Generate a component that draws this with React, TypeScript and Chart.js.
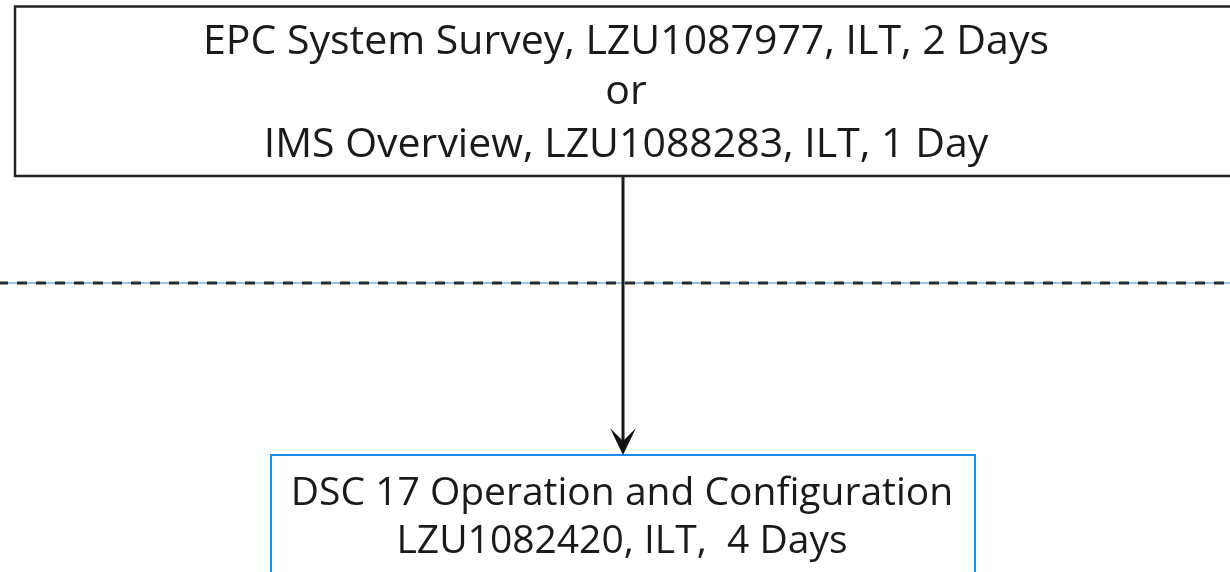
import React, { useEffect, useRef } from "react";
import { Chart, registerables } from "chart.js";

Chart.register(...registerables);

// Course nodes (text lines)
const topBoxLines = [
  "EPC System Survey, LZU1087977, ILT, 2 Days",
  "or",
  "IMS Overview, LZU1088283, ILT, 1 Day",
];
const bottomBoxLines = [
  "DSC 17 Operation and Configuration",
  "LZU1082420, ILT,  4 Days",
];

// Connector (arrow) from top node to bottom node, in diagram units
const arrowX = [623, 623];
const arrowY = [176, 448];

// Level separator
const separatorX = [0, 1230];
const separatorY = [283, 283];

const FONT = '"Open Sans", "Noto Sans", sans-serif';

const diagramPlugin = {
  id: "diagram",
  afterDatasetsDraw(chart: any) {
    const ctx: CanvasRenderingContext2D = chart.ctx;
    const xs = chart.scales.x;
    const ys = chart.scales.y;
    const px = (v: number) => xs.getPixelForValue(v);
    const py = (v: number) => ys.getPixelForValue(v);

    // top box
    ctx.save();
    ctx.strokeStyle = "#222222";
    ctx.lineWidth = 2.5;
    ctx.strokeRect(px(15), py(6.5), px(1250) - px(15), py(176) - py(6.5));
    ctx.fillStyle = "#1a1a1a";
    ctx.font = `41px ${FONT}`;
    ctx.textAlign = "center";
    ctx.textBaseline = "alphabetic";
    const topBase = [54, 104, 157];
    topBoxLines.forEach((t, i) => ctx.fillText(t, px(626), py(topBase[i])));

    // bottom box
    ctx.strokeStyle = "#1b8cf0";
    ctx.lineWidth = 2;
    ctx.strokeRect(px(271), py(455), px(975) - px(271), py(600) - py(455));
    ctx.font = `39px ${FONT}`;
    const botBase = [505, 553];
    bottomBoxLines.forEach((t, i) => ctx.fillText(t, px(622), py(botBase[i])));

    // arrow head
    const tipX = px(arrowX[1]);
    const tipY = py(455);
    ctx.fillStyle = "#111111";
    ctx.beginPath();
    ctx.moveTo(tipX, tipY);
    ctx.lineTo(tipX - 13, tipY - 27);
    ctx.lineTo(tipX, tipY - 14);
    ctx.lineTo(tipX + 13, tipY - 27);
    ctx.closePath();
    ctx.fill();
    ctx.restore();
  },
  beforeDatasetsDraw(chart: any) {
    const ctx: CanvasRenderingContext2D = chart.ctx;
    const xs = chart.scales.x;
    const ys = chart.scales.y;
    ctx.save();
    ctx.strokeStyle = "#1e88e5";
    ctx.lineWidth = 1.2;
    ctx.beginPath();
    ctx.moveTo(xs.getPixelForValue(separatorX[0]), ys.getPixelForValue(separatorY[0]));
    ctx.lineTo(xs.getPixelForValue(separatorX[1]), ys.getPixelForValue(separatorY[1]));
    ctx.stroke();
    ctx.restore();
  },
};

export default function App() {
  const ref = useRef<HTMLCanvasElement | null>(null);
  useEffect(() => {
    if (!ref.current) return;
    const chart = new Chart(ref.current, {
      type: "line",
      data: {
        datasets: [
          {
            data: separatorX.map((x, i) => ({ x, y: separatorY[i] })),
            borderColor: "#2a2a2a",
            borderWidth: 3,
            borderDash: [10, 9],
            borderDashOffset: 2,
            pointRadius: 0,
            fill: false,
          },
          {
            data: arrowX.map((x, i) => ({ x, y: arrowY[i] })),
            borderColor: "#1a1a1a",
            borderWidth: 3,
            pointRadius: 0,
            fill: false,
          },
        ],
      },
      options: {
        responsive: false,
        animation: false,
        layout: { padding: 0 },
        plugins: { legend: { display: false }, tooltip: { enabled: false } },
        scales: {
          x: { type: "linear", min: 0, max: 1230, display: false },
          y: { type: "linear", min: 0, max: 572, reverse: true, display: false },
        },
      },
      plugins: [diagramPlugin],
    });
    return () => chart.destroy();
  }, []);
  return (
    <div style={{ position: "fixed", left: 0, top: 0, width: 1230, height: 572, background: "#fff" }}>
      <canvas ref={ref} width={1230} height={572} />
    </div>
  );
}
